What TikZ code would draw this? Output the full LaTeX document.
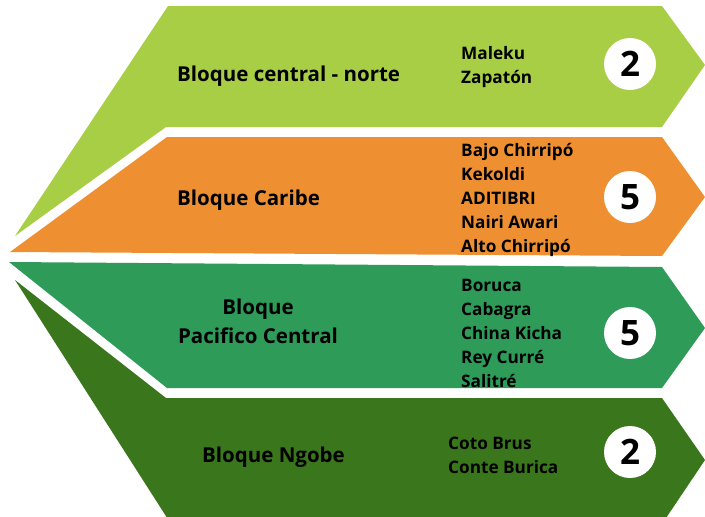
\documentclass[tikz,border=0pt]{standalone}
\usepackage{fontspec}
\setmainfont{Open Sans}[BoldFont={* Bold}]
\definecolor{cA}{HTML}{A7CE45}
\definecolor{cB}{HTML}{EE9032}
\definecolor{cC}{HTML}{2E9B58}
\definecolor{cD}{HTML}{3A761C}
\begin{document}
\begin{tikzpicture}[x=1pt,y=-1pt,
  blk/.style={font=\bfseries\fontsize{20.5}{29}\selectfont, text=black, inner sep=0pt},
  lst/.style={font=\bfseries\fontsize{17.2}{23.8}\selectfont, text=black, inner sep=0pt, align=left},
  numc/.style={circle, fill=white, minimum size=52pt, inner sep=0pt, font=\bfseries\fontsize{35}{35}\selectfont, text=black}]
\useasboundingbox (0,0) rectangle (705,517);
\begin{scope}
\clip (0,0) rectangle (705,517);
\fill[cA] (15,236) -- (168,6) -- (662,6) -- (705,65) -- (662,127) -- (166,127) -- cycle;
\fill[cB] (10,252) -- (167,137) -- (662,137) -- (705,197) -- (662,256) -- cycle;
\fill[cC] (9,262) -- (662,267) -- (705,328) -- (662,388) -- (167,388) -- cycle;
\fill[cD] (15,280) -- (166,398) -- (662,398) -- (705,460) -- (662,524) -- (171,524) -- cycle;
\end{scope}
% block labels
\node[blk, anchor=base west] (b1) at (177,81) {Bloque central - norte};
\node[blk, anchor=base west] (b2) at (177,205) {Bloque Caribe};
\node[blk, anchor=base, align=center] (b3) at (258,343) {Bloque\\Pacifico Central};
\node[blk, anchor=base west] (b4) at (202,462) {Bloque Ngobe};
% lists
\node[lst, anchor=base west] (l1) at (461,83) {Maleku\\Zapatón};
\node[lst, anchor=base west] (l2) at (461,252) {Bajo Chirripó\\Kekoldi\\ADITIBRI\\Nairi Awari\\Alto Chirripó};
\node[lst, anchor=base west] (l3) at (461,387) {Boruca\\Cabagra\\China Kicha\\Rey Curré\\Salitré};
\node[lst, anchor=base west] (l4) at (448,473) {Coto Brus\\Conte Burica};
% numbers
\node[numc] (n1) at (630,64) {2};
\node[numc] (n2) at (630,197) {5};
\node[numc] (n3) at (630,333) {5};
\node[numc] (n4) at (630,452) {2};
\end{tikzpicture}
\end{document}
